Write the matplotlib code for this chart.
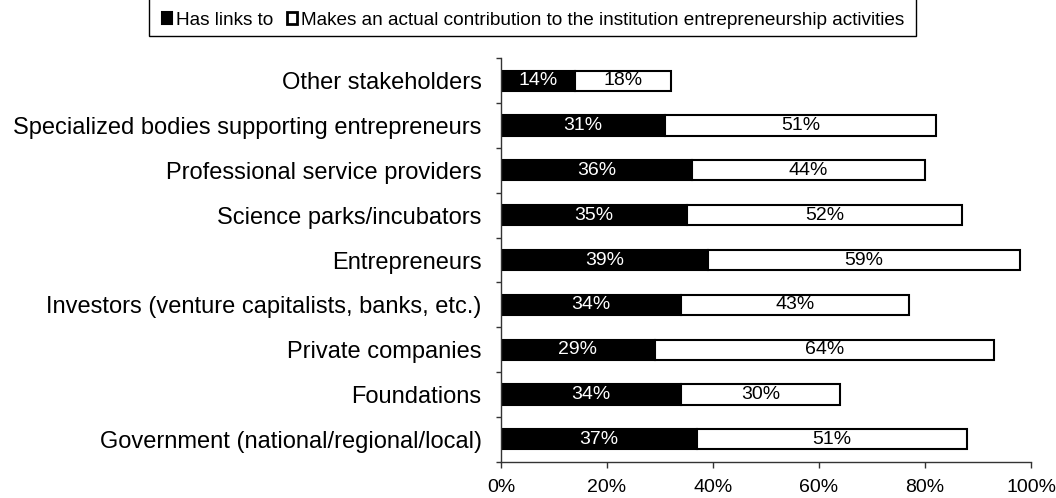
import matplotlib
matplotlib.use("Agg")
import matplotlib.pyplot as plt
import numpy as np
from matplotlib.patches import Patch, Rectangle

plt.rcParams['font.family'] = ['Liberation Sans', 'DejaVu Sans']

categories = [
    "Government (national/regional/local)",
    "Foundations",
    "Private companies",
    "Investors (venture capitalists, banks, etc.)",
    "Entrepreneurs",
    "Science parks/incubators",
    "Professional service providers",
    "Specialized bodies supporting entrepreneurs",
    "Other stakeholders",
]
has_links = [37, 34, 29, 34, 39, 35, 36, 31, 14]
contribution = [51, 30, 64, 43, 59, 52, 44, 51, 18]
series_names = ["Has links to",
                "Makes an actual contribution to the institution entrepreneurship activities"]
xticks = [0, 20, 40, 60, 80, 100]

W, H = 1056, 498
fig = plt.figure(figsize=(W / 100, H / 100), dpi=100)
ax = fig.add_axes([501 / W, 1 - 461.7 / H, (1031 - 501) / W, (461.7 - 58.3) / H])

y = np.arange(len(categories))
bh = 0.45
ax.barh(y, has_links, height=bh, color='black', edgecolor='black', linewidth=1.5)
ax.barh(y, contribution, left=has_links, height=bh, color='white',
        edgecolor='black', linewidth=1.5)

for i in range(len(categories)):
    ax.text(has_links[i] / 2, y[i], f"{has_links[i]}%", ha='center', va='center',
            color='white', fontsize=14)
    ax.text(has_links[i] + contribution[i] / 2, y[i], f"{contribution[i]}%", ha='center',
            va='center', color='black', fontsize=14)

ax.set_xlim(0, 100)
ax.set_ylim(-0.5, len(categories) - 0.5)
ax.set_xticks(xticks)
ax.set_xticklabels([f"{t}%" for t in xticks], fontsize=14)
ax.set_yticks(y)
ax.set_yticklabels(categories, fontsize=17)
ax.set_yticks(np.arange(-0.5, len(categories), 1), minor=True)
ax.tick_params(axis='y', which='major', length=0, pad=14)
ax.tick_params(axis='y', which='minor', length=3.5, width=1, direction='out', color='#333333')
ax.tick_params(axis='x', which='major', length=4.5, width=1, direction='out', pad=8, color='#333333')
for s in ['top', 'right']:
    ax.spines[s].set_visible(False)
for s in ['left', 'bottom']:
    ax.spines[s].set_color('#333333')
    ax.spines[s].set_linewidth(1)

# legend frame (extends above the top of the figure, as in the reference)
fig.patches.append(Rectangle((149 / W, 1 - 35.7 / H), (916 - 149) / W, 0.2,
                             transform=fig.transFigure, facecolor='white',
                             edgecolor='black', linewidth=1, zorder=0))
handles = [Patch(facecolor='black', edgecolor='black', linewidth=1.5),
           Patch(facecolor='white', edgecolor='black', linewidth=2)]
fig.legend(handles, series_names, loc='center left', ncol=2,
           bbox_to_anchor=(162 / W, 1 - 20 / H),
           fontsize=13.7, frameon=False,
           handlelength=0.55, handleheight=0.55, handletextpad=0.2,
           columnspacing=0.7, borderpad=0, borderaxespad=0)

fig.savefig("out.png", dpi=100)
